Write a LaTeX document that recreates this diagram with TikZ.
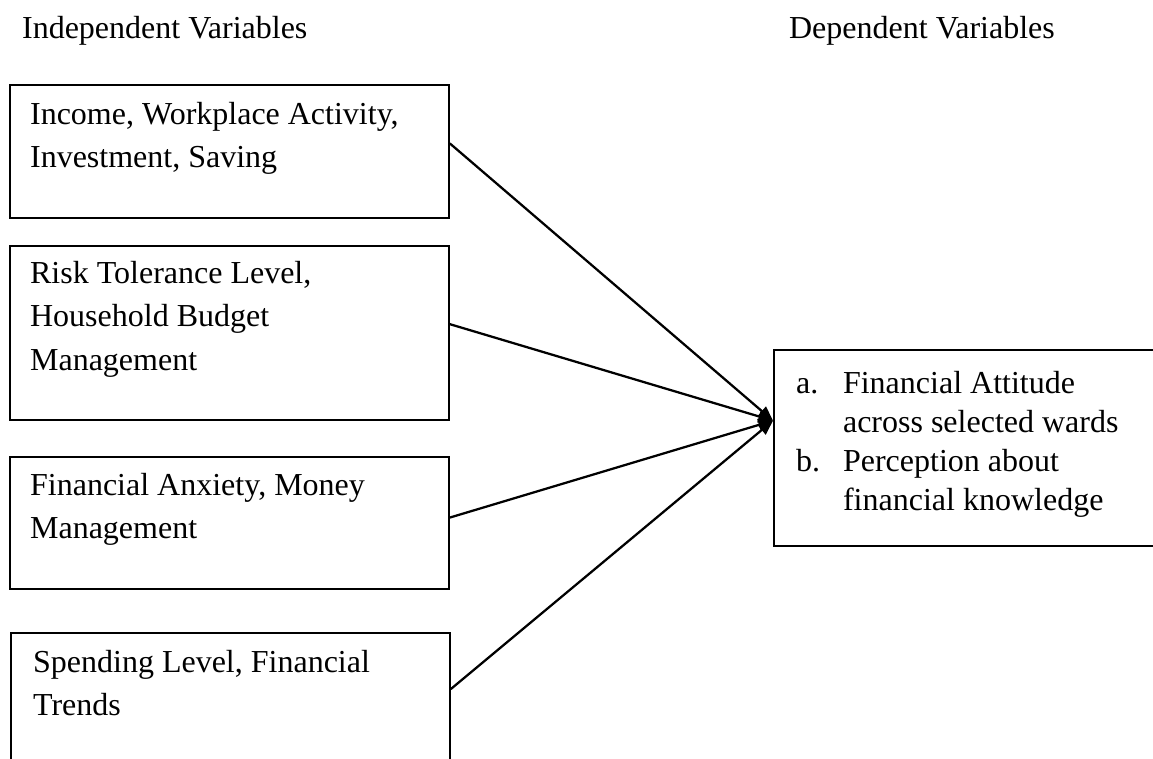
\documentclass[tikz,border=0pt]{standalone}
\usepackage{fontspec}
\setmainfont{Liberation Serif}
\usetikzlibrary{arrows.meta,calc}

\begin{document}
\begin{tikzpicture}[->,>={Triangle[length=5.5pt,width=4.5pt]},x=0.375pt,y=-0.375pt,
                    line width=0.85pt]
  \tikzstyle{every node}=[font=\fontsize{12pt}{16.3pt}\selectfont]
  \tikzstyle{varbox}=[draw,line width=0.7pt,inner sep=0pt,anchor=north west,
                      minimum width=164.6pt]
  % base of a multi-line node = baseline of its last line
  \tikzstyle{vartext}=[anchor=base west,align=left,inner sep=0pt]

  \path[use as bounding box,clip] (0,0) rectangle (1153,758);

  % column headings
  \node[vartext] (indep) at (21,38)  {Independent Variables};
  \node[vartext] (dep)   at (788,38) {Dependent Variables};

  % boxes
  \node[varbox,minimum height=49.9pt]  (b1) at (9,84)   {};
  \node[varbox,minimum height=65.25pt] (b2) at (9,245)  {};
  \node[varbox,minimum height=49.5pt]  (b3) at (9,456)  {};
  \node[varbox,minimum height=50.25pt] (b4) at (10,632) {};
  \node[varbox,minimum width=145pt,minimum height=73.5pt] (dv) at (773,349) {};

  \node[vartext] (t1) at ([shift={(20,83.5)}]b1.north west)
    {Income, Workplace Activity,\\Investment, Saving};
  \node[vartext] (t2) at ([shift={(20,125)}]b2.north west)
    {Risk Tolerance Level,\\Household Budget\\Management};
  \node[vartext] (t3) at ([shift={(20,82.5)}]b3.north west)
    {Financial Anxiety, Money\\Management};
  \node[vartext] (t4) at ([shift={(22,83.5)}]b4.north west)
    {Spending Level, Financial\\Trends};
  \node[vartext,font=\fontsize{12pt}{14.6pt}\selectfont] (tdv)
    at ([shift={(22,161)}]dv.north west)
    {\makebox[17.6pt][l]{a.}Financial Attitude\\
     \hspace*{17.6pt}across selected wards\\
     \makebox[17.6pt][l]{b.}Perception about\\
     \hspace*{17.6pt}financial knowledge};

  % links into the dependent box
  \coordinate (tip) at ($(dv.north west)!.362!(dv.south west)$);
  \draw ($(b1.north east)!.44!(b1.south east)$) -- (tip);
  \draw ($(b2.north east)!.45!(b2.south east)$) -- (tip);
  \draw ($(b3.north east)!.46!(b3.south east)$) -- (tip);
  \draw ($(b4.north east)!.42!(b4.south east)$) -- (tip);
\end{tikzpicture}
\end{document}
